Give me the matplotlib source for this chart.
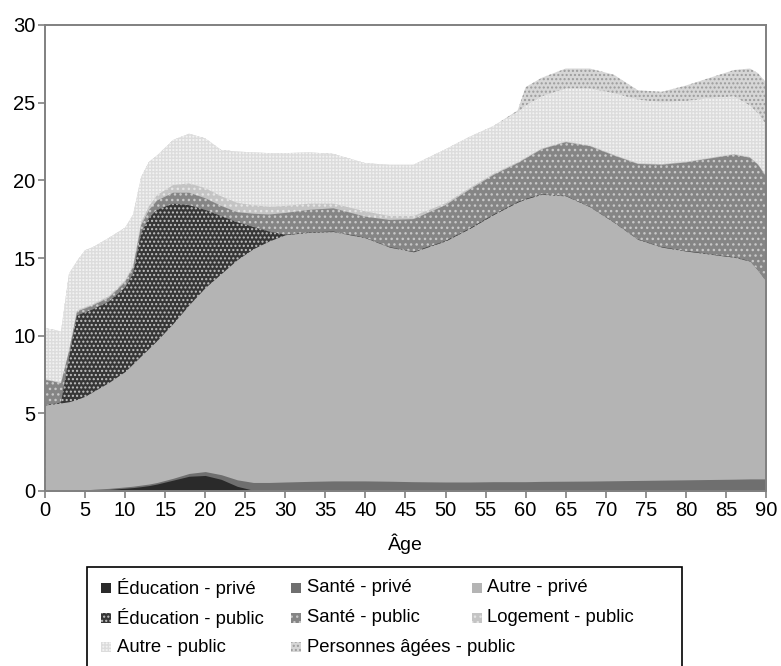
import numpy as np
import matplotlib
matplotlib.use("Agg")
from matplotlib import pyplot as plt
from matplotlib.patches import Rectangle

# values (stacked layers, bottom to top)
ages = [0, 1, 2, 3, 4, 5, 6, 8, 10, 11, 12, 13, 14, 16, 18, 20, 22, 24, 26, 28, 30,
        33, 36, 40, 43, 46, 50, 53, 56, 59,
        60, 62, 65, 68, 71, 74, 77, 80, 83, 86, 88, 89, 90]

education_prive = [0, 0, 0, 0, 0, 0.02, 0.05, 0.10, 0.18, 0.22, 0.28, 0.35, 0.45, 0.70, 0.95, 1.00, 0.75, 0.30, 0.05, 0, 0,
                   0, 0, 0, 0, 0, 0, 0, 0, 0,
                   0, 0, 0, 0, 0, 0, 0, 0, 0, 0, 0, 0, 0]
sante_prive = [0.03, 0.03, 0.03, 0.04, 0.05, 0.05, 0.06, 0.07, 0.08, 0.09, 0.10, 0.10, 0.10, 0.12, 0.18, 0.25, 0.30, 0.42, 0.50, 0.55, 0.58,
               0.62, 0.65, 0.65, 0.63, 0.60, 0.58, 0.58, 0.60, 0.60,
               0.60, 0.62, 0.63, 0.64, 0.66, 0.68, 0.70, 0.72, 0.74, 0.76, 0.78, 0.78, 0.78]
autre_prive = [5.51, 5.57, 5.64, 5.71, 5.85, 6.03, 6.29, 6.83, 7.44, 7.89, 8.32, 8.75, 9.15, 9.98, 10.87, 11.85, 12.95, 14.18, 15.05, 15.55, 15.92,
               16.03, 16.05, 15.65, 15.07, 14.80, 15.52, 16.32, 17.20, 18.00,
               18.20, 18.48, 18.37, 17.66, 16.64, 15.52, 15.00, 14.73, 14.51, 14.29, 14.02, 13.42, 12.72]
education_public = [0, 0, 0.03, 2.85, 5.40, 5.40, 5.30, 5.20, 5.40, 5.80, 7.90, 8.40, 8.40, 7.70, 6.40, 5.00, 3.70, 2.40, 1.40, 0.60, 0,
                    0, 0, 0, 0, 0, 0, 0, 0, 0,
                    0, 0, 0, 0, 0, 0, 0, 0, 0, 0, 0, 0, 0]
sante_public = [1.61, 1.45, 1.23, 0.40, 0.25, 0.25, 0.25, 0.25, 0.35, 0.40, 0.50, 0.50, 0.60, 0.70, 0.80, 0.75, 0.65, 0.65, 0.85, 1.10, 1.40,
                1.45, 1.50, 1.36, 1.75, 2.10, 2.30, 2.50, 2.55, 2.50,
                2.60, 2.90, 3.45, 3.90, 4.30, 4.85, 5.30, 5.70, 6.15, 6.60, 6.65, 6.80, 6.75]
logement_public = [0.05, 0.05, 0.05, 0.05, 0.08, 0.08, 0.08, 0.10, 0.10, 0.12, 0.20, 0.25, 0.35, 0.50, 0.60, 0.65, 0.62, 0.60, 0.55, 0.50, 0.45,
                   0.40, 0.30, 0.34, 0.25, 0.20, 0.12, 0.10, 0.08, 0.06,
                   0.06, 0.05, 0.05, 0.05, 0.05, 0.05, 0.05, 0.05, 0.05, 0.05, 0.05, 0.05, 0.05]
autre_public = [3.27, 3.30, 3.28, 4.95, 3.17, 3.67, 3.67, 3.75, 3.40, 3.28, 2.90, 2.85, 2.55, 2.90, 3.20, 3.20, 2.98, 3.30, 3.40, 3.45, 3.40,
                3.30, 3.20, 3.10, 3.30, 3.30, 3.48, 3.30, 3.07, 3.24,
                3.34, 3.35, 3.40, 3.65, 3.95, 4.10, 3.95, 3.90, 3.85, 3.70, 3.30, 3.25, 3.30]
personnes_agees_public = [0, 0, 0, 0, 0, 0, 0, 0, 0, 0, 0, 0, 0, 0, 0, 0, 0, 0, 0, 0, 0,
                          0, 0, 0, 0, 0, 0, 0, 0, 0.10,
                          1.20, 1.20, 1.30, 1.30, 1.20, 0.60, 0.70, 1.00, 1.30, 1.70, 2.40, 2.60, 2.70]

labels = ["Éducation - privé", "Santé - privé", "Autre - privé",
          "Éducation - public", "Santé - public", "Logement - public",
          "Autre - public", "Personnes âgées - public"]
series = [education_prive, sante_prive, autre_prive, education_public,
          sante_public, logement_public, autre_public, personnes_agees_public]

# face colour, hatch, hatch colour
styles = [
    ('#2a2a2a', None, '#2a2a2a'),
    ('#6f6f6f', None, '#6f6f6f'),
    ('#b4b4b4', None, '#b4b4b4'),
    ('#363636', '....', '#c2c2c2'),
    ('#858585', '...', '#c8c8c8'),
    ('#c4c4c4', '...', '#e4e4e4'),
    ('#f2f2f2', '+++++', '#dcdcdc'),
    ('#d6d6d6', '....', '#9c9c9c'),
]

plt.rcParams['font.family'] = ['Liberation Sans', 'DejaVu Sans']
plt.rcParams['hatch.linewidth'] = 1.0

W, H = 781, 666
fig = plt.figure(figsize=(W / 100, H / 100), dpi=100)
ax = fig.add_axes([45 / W, 1 - 491 / H, (766 - 45) / W, (491 - 25) / H])

# cumulative tops; draw from the top layer down so lower layers cover the seams
tops = np.cumsum(np.array(series, dtype=float), axis=0)
for i in range(len(series) - 1, -1, -1):
    face, hatch, hc = styles[i]
    ax.fill_between(ages, 0, tops[i], facecolor=face, edgecolor=hc,
                    hatch=hatch, linewidth=0, zorder=1)

ax.set_xlim(0, 90)
ax.set_ylim(0, 30)
ax.set_xticks(range(0, 91, 5))
ax.set_yticks(range(0, 31, 5))
for side in ['left', 'right', 'top', 'bottom']:
    ax.spines[side].set_color('#808080')
    ax.spines[side].set_linewidth(1.4)
ax.tick_params(direction='out', length=5, width=1.2, color='#808080',
               labelsize=14.5, pad=2)
ax.set_xlabel("Âge", fontsize=14, labelpad=10)

# legend drawn by hand: 3 columns, row-major order
fig.add_artist(Rectangle((87 / W, -0.02), (682 - 87) / W, 0.02 + 1 - 567 / H,
                         transform=fig.transFigure, fill=False,
                         edgecolor='black', linewidth=1.2))
icon_x = [101, 291, 472]
text_x = [117, 307, 487]
row_y = [588, 618, 647]
for i, label in enumerate(labels):
    col, row = i % 3, i // 3
    face, hatch, hc = styles[i]
    fig.add_artist(Rectangle((icon_x[col] / W, 1 - (row_y[row] + 5) / H), 10 / W, 10 / H,
                             transform=fig.transFigure, facecolor=face,
                             edgecolor=hc, hatch=hatch, linewidth=0))
    fig.text(text_x[col] / W, 1 - row_y[row] / H, label, fontsize=13.3,
             ha='left', va='center')

fig.savefig("out.png", dpi=100)
